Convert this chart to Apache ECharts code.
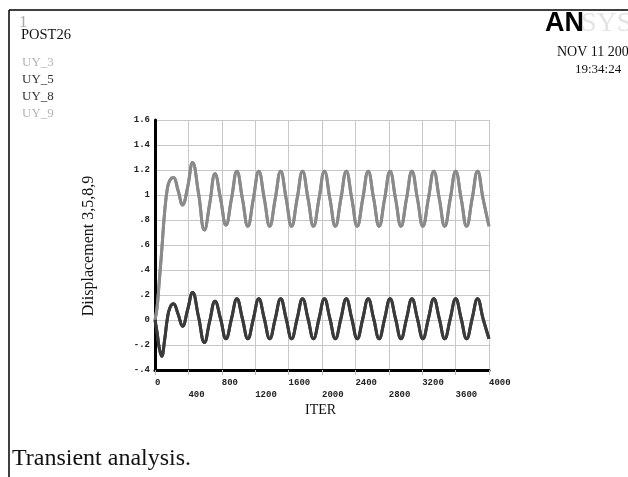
<!DOCTYPE html>
<html>
<head>
<meta charset="utf-8">
<script src="https://cdn.jsdelivr.net/npm/echarts@6/dist/echarts.min.js"></script>
<style>
	html, body { margin: 0; padding: 0; background: #fff; }
	#main { width: 628px; height: 477px; }
</style>
</head>
<body>
<div id="main"></div>
<script>
var iters = [0, 25, 50, 80, 115, 150, 180, 220, 275, 330, 390, 450, 520, 592, 655,
	719, 785, 850, 916, 981, 1047, 1112, 1178, 1243, 1309, 1374, 1440, 1505, 1571, 1636, 1702,
	1767, 1833, 1898, 1964, 2029, 2095, 2160, 2226, 2291, 2357, 2422, 2488, 2553, 2619, 2684, 2750,
	2815, 2881, 2946, 3012, 3077, 3143, 3208, 3274, 3339, 3405, 3470, 3536, 3601, 3667, 3732, 3798,
	3863, 3929, 4000];

// upper (grey) curve, UY_3 and UY_9 lie on top of each other
var uyUpper = [0, 0.1, 0.3, 0.55, 0.86, 1.06, 1.12, 1.14, 1.04, 0.92, 1.06, 1.26, 1.02, 0.72, 0.93,
	1.17, 0.97, 0.76, 0.97, 1.19, 0.97, 0.75, 0.97, 1.19, 0.97, 0.75, 0.97, 1.19, 0.97, 0.75, 0.97,
	1.19, 0.97, 0.75, 0.97, 1.19, 0.97, 0.75, 0.97, 1.19, 0.97, 0.75, 0.97, 1.19, 0.97, 0.75, 0.97,
	1.19, 0.97, 0.75, 0.97, 1.19, 0.97, 0.75, 0.97, 1.19, 0.97, 0.75, 0.97, 1.19, 0.97, 0.75, 0.97,
	1.19, 0.97, 0.75];

// lower (dark) curve, UY_5 and UY_8
var uyLower = [0, -0.1, -0.22, -0.29, -0.16, 0.02, 0.1, 0.13, 0.05, -0.05, 0.08, 0.22, 0.03, -0.18, -0.01,
	0.15, 0.01, -0.15, 0.01, 0.17, 0.01, -0.15, 0.01, 0.17, 0.01, -0.15, 0.01, 0.17, 0.01, -0.15, 0.01,
	0.17, 0.01, -0.15, 0.01, 0.17, 0.01, -0.15, 0.01, 0.17, 0.01, -0.15, 0.01, 0.17, 0.01, -0.15, 0.01,
	0.17, 0.01, -0.15, 0.01, 0.17, 0.01, -0.15, 0.01, 0.17, 0.01, -0.15, 0.01, 0.17, 0.01, -0.15, 0.01,
	0.17, 0.01, -0.15];

var seriesNames = ['UY_3', 'UY_5', 'UY_8', 'UY_9'];
var seriesColors = ['#8a8a8a', '#3a3a3a', '#3a3a3a', '#8a8a8a'];
var legendColors = ['#b4b4b4', '#333333', '#333333', '#b4b4b4'];
var seriesValues = [uyUpper, uyLower, uyLower, uyUpper];

var serif = '"Liberation Serif", "DejaVu Serif", serif';
var mono = '"Liberation Mono", "DejaVu Sans Mono", monospace';

function pairs(vals) {
	var out = [];
	for (var i = 0; i < iters.length; i++) {
		out.push([iters[i], vals[i]]);
	}
	return out;
}

var series = [];
var legendData = [];
for (var s = 0; s < seriesNames.length; s++) {
	series.push({
		name: seriesNames[s],
		type: 'line',
		smooth: 0.45,
		symbol: 'none',
		lineStyle: { color: seriesColors[s], width: 3 },
		itemStyle: { color: seriesColors[s] },
		z: s == 1 || s == 2 ? 3 : 2,
		data: pairs(seriesValues[s])
	});
	legendData.push({ name: seriesNames[s], textStyle: { color: legendColors[s] } });
}

var myChart = echarts.init(document.getElementById('main'));
var option = {
	backgroundColor: '#fff',
	animation: false,
	grid: { left: 155, right: 139, top: 120, bottom: 107 },
	legend: {
		orient: 'vertical',
		left: 12,
		top: 51,
		icon: 'none',
		itemWidth: 0,
		itemHeight: 13,
		itemGap: 4,
		selectedMode: false,
		textStyle: { fontFamily: serif, fontSize: 13, padding: 0 },
		data: legendData
	},
	xAxis: {
		type: 'value',
		min: 0,
		max: 4000,
		interval: 400,
		axisLine: { onZero: false, lineStyle: { color: '#000', width: 3 } },
		axisTick: { show: true, length: 5, lineStyle: { color: '#bbb' } },
		splitLine: { lineStyle: { color: '#c8c8c8', width: 1 } },
		axisLabel: {
			margin: 7,
			align: 'left',
			fontFamily: mono,
			fontSize: 9,
			fontWeight: 'bold',
			color: '#222',
			lineHeight: 12,
			formatter: function(v) {
				return (v / 400) % 2 ? '\n' + v : '' + v;
			}
		}
	},
	yAxis: {
		type: 'value',
		min: -0.4,
		max: 1.6,
		interval: 0.2,
		axisLine: { onZero: false, lineStyle: { color: '#000', width: 3 } },
		axisTick: { show: false },
		splitLine: { lineStyle: { color: '#c8c8c8', width: 1 } },
		axisLabel: {
			margin: 5,
			fontFamily: mono,
			fontSize: 9,
			fontWeight: 'bold',
			color: '#222',
			formatter: function(v) {
				var r = Math.round(v * 10) / 10;
				if (r == 0) return '0';
				return String(r).replace('0.', '.');
			}
		}
	},
	graphic: [
		{ type: 'line', shape: { x1: 9, y1: 10, x2: 628, y2: 10 }, style: { stroke: '#000', lineWidth: 1.5 } },
		{ type: 'line', shape: { x1: 9, y1: 10, x2: 9, y2: 477 }, style: { stroke: '#000', lineWidth: 1.5 } },
		{ type: 'text', left: 19, top: 14, style: { text: '1', fontFamily: serif, fontSize: 17, fill: '#aaa' } },
		{ type: 'text', left: 21, top: 28, style: { text: 'POST26', fontFamily: serif, fontSize: 14.5, fill: '#111' } },
		{ type: 'text', left: 545, top: 10, style: { text: 'AN', fontFamily: '"Liberation Sans", Arial, sans-serif', fontSize: 27, fontWeight: 'bold', fill: '#000' } },
		{ type: 'text', left: 581, top: 10, style: { text: 'SYS', fontFamily: serif, fontSize: 28, fill: '#e4e4e4' } },
		{ type: 'text', left: 557, top: 45, style: { text: 'NOV 11 2009', fontFamily: serif, fontSize: 14, fill: '#111' } },
		{ type: 'text', left: 575, top: 63, style: { text: '19:34:24', fontFamily: serif, fontSize: 13, fill: '#111' } },
		{ type: 'text', x: 89, y: 246, rotation: Math.PI / 2, style: { text: 'Diisplacement 3,5,8,9', fontFamily: serif, fontSize: 16, fill: '#111', align: 'center', verticalAlign: 'middle' } },
		{ type: 'text', left: 305, top: 403, style: { text: 'ITER', fontFamily: serif, fontSize: 14, fill: '#111' } },
		{ type: 'text', left: 12, top: 447, style: { text: 'Transient analysis.', fontFamily: serif, fontSize: 24, fill: '#111' } }
	],
	series: series
};
myChart.setOption(option);
</script>
</body>
</html>
